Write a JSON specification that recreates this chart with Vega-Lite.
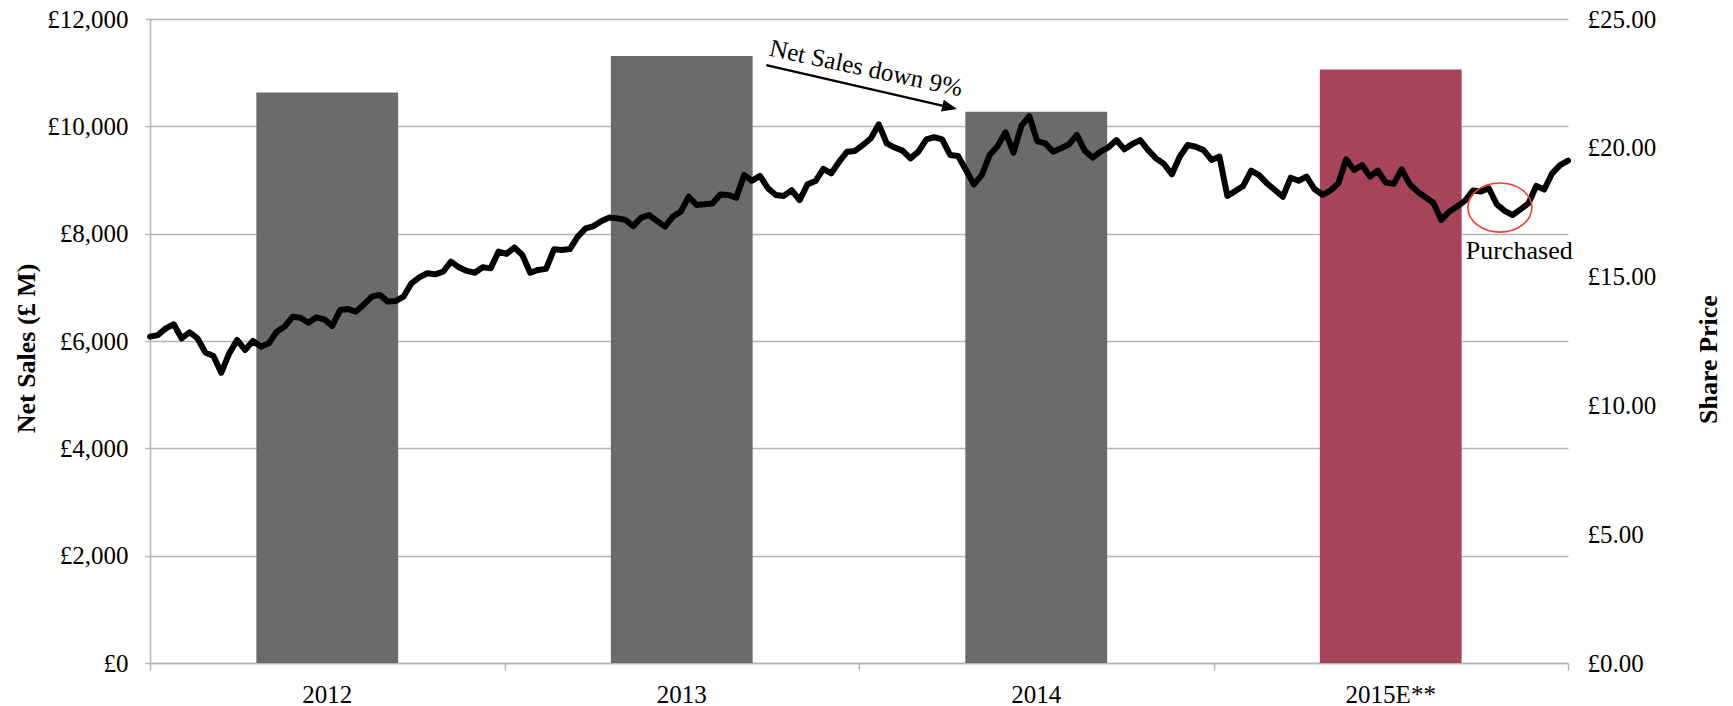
{
  "$schema": "https://vega.github.io/schema/vega-lite/v6.json",
  "autosize": "none",
  "width": 1418,
  "height": 644,
  "padding": {"left": 150, "top": 19, "right": 165, "bottom": 43},
  "background": "white",
  "config": {
    "font": "Liberation Serif",
    "view": {"stroke": null},
    "axis": {"labelColor": "#000000", "titleColor": "#000000", "labelFont": "Liberation Serif", "titleFont": "Liberation Serif"}
  },
  "datasets": {
    "sales": [
      {"year": "2012", "net_sales": 10630},
      {"year": "2013", "net_sales": 11310},
      {"year": "2014", "net_sales": 10270},
      {"year": "2015E**", "net_sales": 11060}
    ],
    "share_price": [
      {"week": 0, "price": 12.67}, {"week": 1, "price": 12.73}, {"week": 2, "price": 12.99}, {"week": 3, "price": 13.15},
      {"week": 4, "price": 12.60}, {"week": 5, "price": 12.84}, {"week": 6, "price": 12.60}, {"week": 7, "price": 12.05},
      {"week": 8, "price": 11.92}, {"week": 9, "price": 11.27}, {"week": 10, "price": 12.02}, {"week": 11, "price": 12.54},
      {"week": 12, "price": 12.15}, {"week": 13, "price": 12.50}, {"week": 14, "price": 12.28}, {"week": 15, "price": 12.41},
      {"week": 16, "price": 12.86}, {"week": 17, "price": 13.06}, {"week": 18, "price": 13.44}, {"week": 19, "price": 13.40},
      {"week": 20, "price": 13.21}, {"week": 21, "price": 13.42}, {"week": 22, "price": 13.34}, {"week": 23, "price": 13.09},
      {"week": 24, "price": 13.70}, {"week": 25, "price": 13.74}, {"week": 26, "price": 13.64}, {"week": 27, "price": 13.92},
      {"week": 28, "price": 14.22}, {"week": 29, "price": 14.29}, {"week": 30, "price": 14.03}, {"week": 31, "price": 14.05},
      {"week": 32, "price": 14.22}, {"week": 33, "price": 14.74}, {"week": 34, "price": 14.97}, {"week": 35, "price": 15.13},
      {"week": 36, "price": 15.09}, {"week": 37, "price": 15.19}, {"week": 38, "price": 15.58}, {"week": 39, "price": 15.36},
      {"week": 40, "price": 15.22}, {"week": 41, "price": 15.15}, {"week": 42, "price": 15.36}, {"week": 43, "price": 15.32},
      {"week": 44, "price": 15.97}, {"week": 45, "price": 15.88}, {"week": 46, "price": 16.13}, {"week": 47, "price": 15.84},
      {"week": 48, "price": 15.15}, {"week": 49, "price": 15.26}, {"week": 50, "price": 15.30}, {"week": 51, "price": 16.06},
      {"week": 52, "price": 16.03}, {"week": 53, "price": 16.07}, {"week": 54, "price": 16.55}, {"week": 55, "price": 16.87},
      {"week": 56, "price": 16.96}, {"week": 57, "price": 17.16}, {"week": 58, "price": 17.29}, {"week": 59, "price": 17.26},
      {"week": 60, "price": 17.20}, {"week": 61, "price": 16.96}, {"week": 62, "price": 17.29}, {"week": 63, "price": 17.39},
      {"week": 64, "price": 17.16}, {"week": 65, "price": 16.94}, {"week": 66, "price": 17.33}, {"week": 67, "price": 17.52},
      {"week": 68, "price": 18.10}, {"week": 69, "price": 17.78}, {"week": 70, "price": 17.81}, {"week": 71, "price": 17.84},
      {"week": 72, "price": 18.19}, {"week": 73, "price": 18.17}, {"week": 74, "price": 18.06}, {"week": 75, "price": 18.94},
      {"week": 76, "price": 18.72}, {"week": 77, "price": 18.91}, {"week": 78, "price": 18.43}, {"week": 79, "price": 18.17},
      {"week": 80, "price": 18.13}, {"week": 81, "price": 18.36}, {"week": 82, "price": 17.97}, {"week": 83, "price": 18.58},
      {"week": 84, "price": 18.71}, {"week": 85, "price": 19.18}, {"week": 86, "price": 19.01}, {"week": 87, "price": 19.46},
      {"week": 88, "price": 19.85}, {"week": 89, "price": 19.88}, {"week": 90, "price": 20.11}, {"week": 91, "price": 20.37},
      {"week": 92, "price": 20.91}, {"week": 93, "price": 20.17}, {"week": 94, "price": 20.01}, {"week": 95, "price": 19.89},
      {"week": 96, "price": 19.59}, {"week": 97, "price": 19.85}, {"week": 98, "price": 20.33}, {"week": 99, "price": 20.41},
      {"week": 100, "price": 20.33}, {"week": 101, "price": 19.72}, {"week": 102, "price": 19.68}, {"week": 103, "price": 19.14},
      {"week": 104, "price": 18.58}, {"week": 105, "price": 18.94}, {"week": 106, "price": 19.72}, {"week": 107, "price": 20.07},
      {"week": 108, "price": 20.60}, {"week": 109, "price": 19.81}, {"week": 110, "price": 20.85}, {"week": 111, "price": 21.23},
      {"week": 112, "price": 20.26}, {"week": 113, "price": 20.17}, {"week": 114, "price": 19.85}, {"week": 115, "price": 19.98},
      {"week": 116, "price": 20.13}, {"week": 117, "price": 20.50}, {"week": 118, "price": 19.89}, {"week": 119, "price": 19.62},
      {"week": 120, "price": 19.85}, {"week": 121, "price": 20.02}, {"week": 122, "price": 20.30}, {"week": 123, "price": 19.94},
      {"week": 124, "price": 20.15}, {"week": 125, "price": 20.30}, {"week": 126, "price": 19.91}, {"week": 127, "price": 19.59},
      {"week": 128, "price": 19.37}, {"week": 129, "price": 18.97}, {"week": 130, "price": 19.66}, {"week": 131, "price": 20.11},
      {"week": 132, "price": 20.04}, {"week": 133, "price": 19.91}, {"week": 134, "price": 19.53}, {"week": 135, "price": 19.66},
      {"week": 136, "price": 18.13}, {"week": 137, "price": 18.32}, {"week": 138, "price": 18.52}, {"week": 139, "price": 19.11},
      {"week": 140, "price": 18.94}, {"week": 141, "price": 18.62}, {"week": 142, "price": 18.36}, {"week": 143, "price": 18.10},
      {"week": 144, "price": 18.84}, {"week": 145, "price": 18.72}, {"week": 146, "price": 18.88}, {"week": 147, "price": 18.40},
      {"week": 148, "price": 18.17}, {"week": 149, "price": 18.34}, {"week": 150, "price": 18.62}, {"week": 151, "price": 19.55},
      {"week": 152, "price": 19.14}, {"week": 153, "price": 19.33}, {"week": 154, "price": 18.88}, {"week": 155, "price": 19.11},
      {"week": 156, "price": 18.65}, {"week": 157, "price": 18.60}, {"week": 158, "price": 19.16}, {"week": 159, "price": 18.60},
      {"week": 160, "price": 18.30}, {"week": 161, "price": 18.08}, {"week": 162, "price": 17.87}, {"week": 163, "price": 17.20},
      {"week": 164, "price": 17.52}, {"week": 165, "price": 17.72}, {"week": 166, "price": 17.95}, {"week": 167, "price": 18.34},
      {"week": 168, "price": 18.30}, {"week": 169, "price": 18.43}, {"week": 170, "price": 17.81}, {"week": 171, "price": 17.55},
      {"week": 172, "price": 17.39}, {"week": 173, "price": 17.61}, {"week": 174, "price": 17.84}, {"week": 175, "price": 18.52},
      {"week": 176, "price": 18.38}, {"week": 177, "price": 19.01}, {"week": 178, "price": 19.33}, {"week": 179, "price": 19.50}
    ],
    "trend_arrow": [
      {"week": 77.8, "price": 23.21, "week_end": 100.95, "price_end": 21.57}
    ],
    "arrow_head": [
      {"week": 100.95, "price": 21.57, "heading": 13.4}
    ],
    "notes": [
      {"label": "Net Sales down 9%", "week": 78.05, "price": 23.58, "angle": 12, "size": 25},
      {"label": "Purchased", "week": 166.1, "price": 15.67, "angle": 0, "size": 26}
    ],
    "purchase": [
      {"week": 170.4, "price": 17.68}
    ]
  },
  "layer": [
    {
      "data": {"name": "sales"},
      "mark": {"type": "bar"},
      "encoding": {
        "x": {
          "field": "year",
          "type": "nominal",
          "sort": null,
          "scale": {"paddingInner": 0.6, "paddingOuter": 0.3},
          "axis": {
            "title": null,
            "orient": "bottom",
            "labelAngle": 0,
            "ticks": false,
            "tickSize": 0,
            "grid": false,
            "domain": true,
            "domainColor": "#b5b5b5",
            "domainWidth": 1.5,
            "labelFontSize": 25,
            "labelPadding": 39,
            "labelBaseline": "alphabetic"
          }
        },
        "y": {
          "field": "net_sales",
          "type": "quantitative",
          "scale": {"domain": [0, 12000], "nice": false},
          "axis": {
            "title": "Net Sales (£ M)",
            "orient": "left",
            "values": [0, 2000, 4000, 6000, 8000, 10000, 12000],
            "labelExpr": "'£' + format(datum.value, ',')",
            "grid": true,
            "gridColor": "#b5b5b5",
            "gridWidth": 1.5,
            "domain": true,
            "domainColor": "#b5b5b5",
            "domainWidth": 1.5,
            "tickColor": "#b5b5b5",
            "tickSize": 5,
            "tickWidth": 1.5,
            "labelPadding": 17,
            "labelFontSize": 25,
            "titleFontSize": 26,
            "titleFontWeight": "bold",
            "titleAngle": -90,
            "titleAlign": "center",
            "titleBaseline": "middle",
            "titleX": -124,
            "titleY": 329
          }
        },
        "color": {
          "field": "year",
          "type": "nominal",
          "scale": {"domain": ["2012", "2013", "2014", "2015E**"], "range": ["#6b6b6b", "#6b6b6b", "#6b6b6b", "#a6455a"]},
          "legend": null
        }
      }
    },
    {
      "encoding": {
        "x": {
          "field": "week",
          "type": "quantitative",
          "scale": {"domain": [0, 179], "nice": false, "zero": false},
          "axis": {
            "title": null,
            "orient": "bottom",
            "values": [0, 44.75, 89.5, 134.25, 179],
            "labels": false,
            "domain": false,
            "grid": false,
            "tickColor": "#b5b5b5",
            "tickSize": 7,
            "tickWidth": 1.5
          }
        },
        "y": {
          "field": "price",
          "type": "quantitative",
          "scale": {"domain": [0, 25], "nice": false},
          "axis": {
            "title": "Share Price",
            "orient": "right",
            "values": [0, 5, 10, 15, 20, 25],
            "labelExpr": "'£' + format(datum.value, '.2f')",
            "grid": false,
            "domain": false,
            "ticks": false,
            "tickSize": 0,
            "labelPadding": 19,
            "labelFontSize": 25,
            "titleFontSize": 26,
            "titleFontWeight": "bold",
            "titleAngle": -90,
            "titleAlign": "center",
            "titleBaseline": "middle",
            "titleX": 140,
            "titleY": 340
          }
        }
      },
      "layer": [
        {
          "data": {"name": "share_price"},
          "mark": {"type": "line", "color": "#000000", "strokeWidth": 6, "strokeJoin": "round", "strokeCap": "round"}
        },
        {
          "data": {"name": "trend_arrow"},
          "mark": {"type": "rule", "color": "#000000", "strokeWidth": 2.5},
          "encoding": {
            "x2": {"field": "week_end"},
            "y2": {"field": "price_end"}
          }
        },
        {
          "data": {"name": "arrow_head"},
          "mark": {"type": "point", "shape": "M 1 0 L -1 -0.8 L -1 0.8 Z", "filled": true, "color": "#000000", "size": 225, "opacity": 1},
          "encoding": {
            "angle": {"field": "heading", "type": "quantitative", "scale": null}
          }
        },
        {
          "data": {"name": "notes"},
          "mark": {"type": "text", "align": "left", "baseline": "alphabetic", "color": "#000000", "font": "Liberation Serif"},
          "encoding": {
            "text": {"field": "label"},
            "angle": {"field": "angle", "type": "quantitative", "scale": null},
            "size": {"field": "size", "type": "quantitative", "scale": null}
          }
        },
        {
          "data": {"name": "purchase"},
          "mark": {"type": "point", "shape": "M -1 0 A 1 0.766 0 1 1 1 0 A 1 0.766 0 1 1 -1 0 Z", "filled": false, "stroke": "#e8412c", "strokeWidth": 1.6, "size": 4096, "opacity": 1}
        }
      ]
    }
  ],
  "resolve": {
    "scale": {"x": "independent", "y": "independent", "color": "independent", "size": "independent", "angle": "independent"},
    "axis": {"x": "independent", "y": "independent"}
  }
}
